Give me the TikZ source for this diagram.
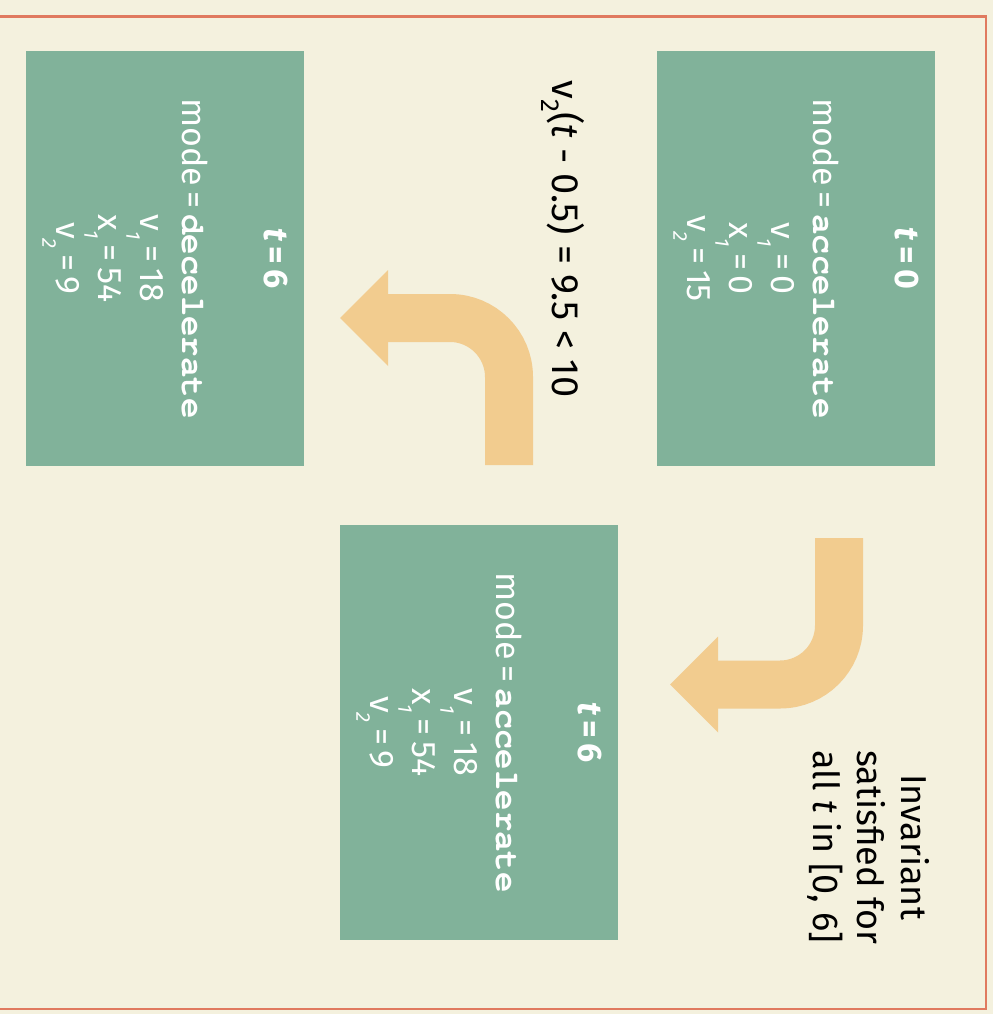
\documentclass[tikz,border=0pt]{standalone}
\usepackage{fontspec}
\setmainfont{Fira Sans}
\newfontfamily\codefont{texgyrecursor}[Extension=.otf, UprightFont=*-regular, BoldFont=*-bold]
\definecolor{bgc}{HTML}{F4F1DE}
\definecolor{framec}{HTML}{E07A5F}
\definecolor{boxc}{HTML}{81B29A}
\definecolor{arrc}{HTML}{F2CC8F}
\newcommand{\sbs}[1]{\raisebox{-0.4em}{\fontsize{20pt}{20pt}\selectfont\itshape #1}}
\newcommand{\sbl}[1]{\raisebox{-0.3em}{\fontsize{26pt}{26pt}\selectfont #1}}
\newcommand{\code}[1]{{\codefont\bfseries #1}}
\begin{document}
\begin{tikzpicture}[x=1pt,y=-1pt,
  statebox/.style={fill=boxc, draw=none, minimum width=278pt, minimum height=415pt, inner sep=0pt},
  statetext/.style={text=white, rotate=-90, align=center, font=\fontsize{34pt}{42pt}\selectfont},
  lbl/.style={text=black, rotate=-90, align=center, font=\fontsize{38pt}{45pt}\selectfont},
  lbltwo/.style={text=black, rotate=-90, align=center, font=\fontsize{36pt}{44pt}\selectfont},
  band/.style={draw=arrc, line width=48pt, rounded corners=59pt},
  head/.style={fill=arrc, draw=none}]
\fill[bgc] (0,0) rectangle (993,1014);
\useasboundingbox (0,0) rectangle (993,1014);
\draw[framec, line width=2.5pt] (-10,16.5) rectangle (986,1009);
% boxes
\node[statebox] (b1) at (796,258.5) {};
\node[statebox] (b2) at (165,258.5) {};
\node[statebox] (b3) at (479,732.5) {};
\node[statetext] (t1) at (b1.center) {{\bfseries\itshape t}\,\textbf{=\,0}\\[40pt]
  mode\,=\,\code{accelerate}\\
  v\sbs{1}\,=\,0\\ x\sbs{1}\,=\,0\\ v\sbs{2}\,=\,15};
\node[statetext] (t2) at (b2.center) {{\bfseries\itshape t}\,\textbf{=\,6}\\[40pt]
  mode\,=\,\code{decelerate}\\
  v\sbs{1}\,=\,18\\ x\sbs{1}\,=\,54\\ v\sbs{2}\,=\,9};
\node[statetext] (t3) at (b3.center) {{\bfseries\itshape t}\,\textbf{=\,6}\\[40pt]
  mode\,=\,\code{accelerate}\\
  v\sbs{1}\,=\,18\\ x\sbs{1}\,=\,54\\ v\sbs{2}\,=\,9};
% labels
\node[lbl] (l1) at (563,239) {v\sbl{2}(\textit{t} - 0.5) = 9.5 < 10};
\node[lbltwo] (l2) at (869,847) {Invariant\\satisfied for\\all \textit{t} in [0, 6]};
% arrow 1
\coordinate (a1s) at (509,465);
\coordinate (a1c) at (509,318);
\coordinate (a1e) at (387,318);
\draw[band] (a1s) -- (a1c) -- (a1e);
\fill[head] (388,270) -- (340,318) -- (388,366) -- cycle;
% arrow 2
\coordinate (a2s) at (839,538);
\coordinate (a2c) at (839,684.5);
\coordinate (a2e) at (717,684.5);
\draw[band] (a2s) -- (a2c) -- (a2e);
\fill[head] (718,636.5) -- (670,684.5) -- (718,732.5) -- cycle;
\end{tikzpicture}
\end{document}
